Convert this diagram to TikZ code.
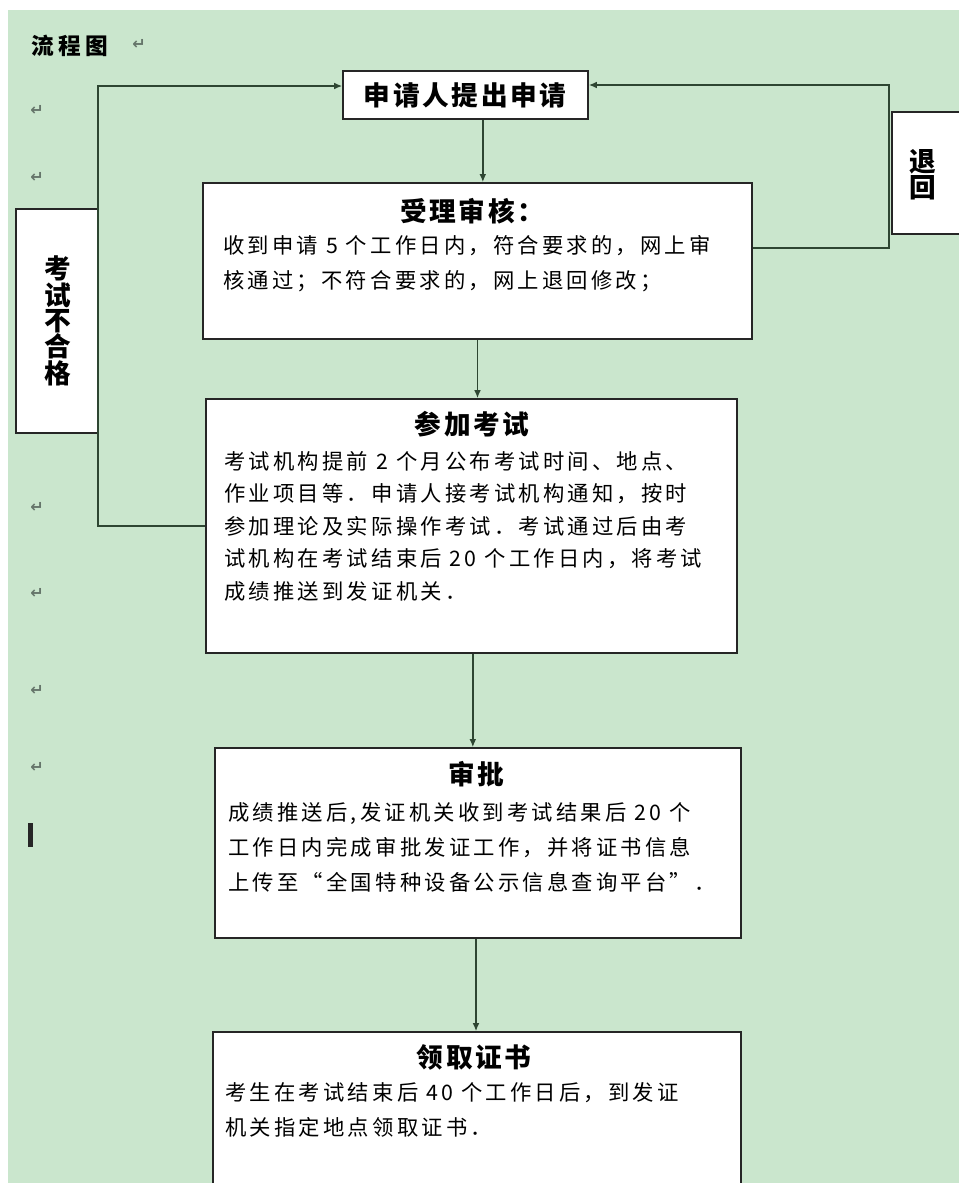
\documentclass[tikz,border=0pt]{standalone}
\usepackage{fontspec}
\setmainfont{Noto Sans CJK SC}
\newfontfamily\bodyfont[LetterSpace=15]{Noto Sans CJK SC}
\newfontfamily\headfont[LetterSpace=10]{Noto Sans CJK SC}
\newfontfamily\markfont{DejaVu Sans}
\usetikzlibrary{positioning,arrows.meta}
\definecolor{paper}{HTML}{CAE6CD}
\definecolor{linegreen}{HTML}{2E4632}
\definecolor{markgrey}{HTML}{65756A}
\tikzset{
  stepbox/.style={draw=black!85, fill=white, line width=1.2pt, inner sep=0pt},
  headtext/.style={font=\headfont\bfseries\fontsize{20}{24}\selectfont, inner sep=0pt},
  bodytext/.style={font=\bodyfont\fontsize{16}{26.25}\selectfont, align=left, inner sep=0pt, anchor=north west},
  sidetext/.style={font=\headfont\bfseries\fontsize{20}{17.5}\selectfont, align=center, inner sep=0pt},
  flow/.style={-{Latex[length=6pt,width=5pt]}, draw=linegreen, line width=1.1pt},
  parmark/.style={font=\markfont\bfseries\fontsize{12}{12}\selectfont, text=markgrey, inner sep=0pt},
}

\begin{document}
\begin{tikzpicture}[x=0.75pt, y=-0.75pt]
\useasboundingbox (0,0) rectangle (959,1183);
\fill[white] (0,0) rectangle (959,1183);
\fill[paper] (8,10) rectangle (959,1183);

%Nodes
\node[headtext, anchor=west, font=\headfont\bfseries\fontsize{17}{18}\selectfont] (title) at (31,46) {流\hspace{3.5pt}程\hspace{3.5pt}图};
\node[parmark] (titlemark) at (139,44) {↵};
\foreach \y [count=\i] in {110,177,507,593,690,767}
  \node[parmark] (pm\i) at (37,\y) {↵};
\fill[black!85] (28,823) rectangle (33,847);

\node[stepbox, minimum width=183.75pt, minimum height=36pt] (apply) at (465.5,95) {};
\node[headtext] (applytext) at (465,95) {申请人提出申请};

\node[stepbox, minimum width=411.75pt, minimum height=117pt] (accept) at (477.5,261) {};
\node[headtext] (accepthead) at (472,211) {受理审核：};
\node[bodytext] (acceptbody) at (223,235) {收到申请 5 个工作日内，符合要求的，网上审\\核通过；不符合要求的，网上退回修改；};

\node[stepbox, minimum width=398.25pt, minimum height=190.5pt] (exam) at (471.5,526) {};
\node[headtext] (examhead) at (472,424) {参加考试};
\node[bodytext, font=\bodyfont\fontsize{16}{24.4}\selectfont] (exambody) at (224,451) {考试机构提前 2 个月公布考试时间、地点、\\作业项目等．申请人接考试机构通知，按时\\参加理论及实际操作考试．考试通过后由考\\试机构在考试结束后 20 个工作日内，将考试\\成绩推送到发证机关．};

\node[stepbox, minimum width=394.5pt, minimum height=142.5pt] (approve) at (478,843) {};
\node[headtext] (approvehead) at (476,774) {审批};
\node[bodytext] (approvebody) at (228,802) {成绩推送后,发证机关收到考试结果后 20 个\\工作日内完成审批发证工作，并将证书信息\\上传至“全国特种设备公示信息查询平台”．};

\node[stepbox, minimum width=396pt, minimum height=163.5pt] (collect) at (477,1141) {};
\node[headtext] (collecthead) at (474,1057) {领取证书};
\node[bodytext] (collectbody) at (225,1082) {考生在考试结束后 40 个工作日后，到发证\\机关指定地点领取证书．};

\node[stepbox, minimum width=61.5pt, minimum height=168pt] (fail) at (57,321) {};
\node[sidetext] (failtext) at (58,321) {考\\试\\不\\合\\格};

\node[stepbox, minimum width=63pt, minimum height=91.5pt] (back) at (934,173) {};
\node[sidetext] (backtext) at (923,175) {退\\回};

\coordinate (lcorner) at (98,86);
\coordinate (rcorner) at (889,85);
\coordinate (rlow) at (889,248);

%Lines
\draw[flow] ([xshift=13pt]apply.south) -- ([xshift=13pt]apply.south |- accept.north);
\draw[flow] (accept.south) -- (accept.south |- exam.north);
\draw[flow] ([xshift=1pt]exam.south) -- ([xshift=1pt]exam.south |- approve.north);
\draw[flow] ([xshift=-1.5pt]approve.south) -- ([xshift=-1.5pt]approve.south |- collect.north);
\draw[flow] (exam.west) -| (lcorner) -- (lcorner -| apply.west);
\draw[flow] (accept.east |- rlow) -- (rlow) -- (rcorner) -- (rcorner -| apply.east);
\end{tikzpicture}
\end{document}
